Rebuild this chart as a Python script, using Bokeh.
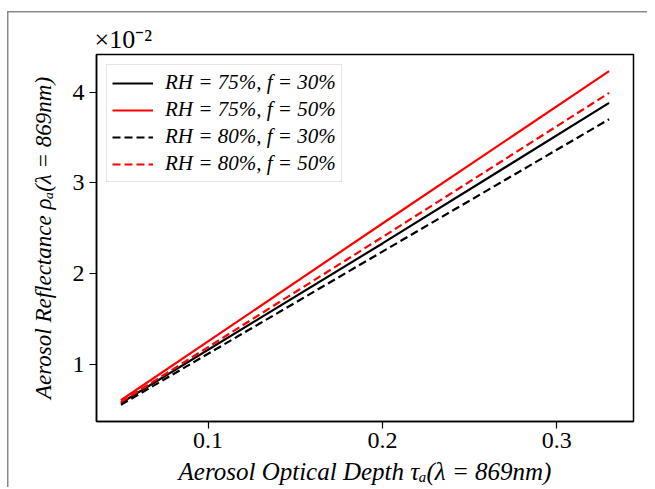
from bokeh.plotting import figure
from bokeh.models import (Range1d, FixedTicker, CustomJSTickFormatter, Legend, LegendItem)
from bokeh.embed import file_html
from bokeh.resources import INLINE

# Data (reflectance in absolute units; axis shows x10^-2)
tau = [0.05, 0.20, 0.33]
rh75_f30 = [0.0057, 0.0233, 0.0388]
rh75_f50 = [0.0060, 0.0255, 0.0423]
rh80_f30 = [0.0055, 0.0224, 0.0370]
rh80_f50 = [0.0058, 0.0240, 0.0399]

series_labels = ["RH = 75%, f = 30%", "RH = 75%, f = 50%",
                 "RH = 80%, f = 30%", "RH = 80%, f = 50%"]
x_ticks = [0.1, 0.2, 0.3]
y_ticks = [0.01, 0.02, 0.03, 0.04]

all_y = rh75_f30 + rh75_f50 + rh80_f30 + rh80_f50
xmin, xmax = min(tau), max(tau)
ymin, ymax = min(all_y), max(all_y)
xm = 0.05 * (xmax - xmin)
ym = 0.05 * (ymax - ymin)

SERIF = "Liberation Serif"
GREY = "#8a8a8a"

p = figure(width=647, height=487, output_backend="svg", toolbar_location=None,
           x_range=Range1d(xmin - xm, xmax + xm), y_range=Range1d(ymin - ym, ymax + ym),
           min_border_left=96, min_border_right=14, min_border_top=54, min_border_bottom=20,
           title="×10⁻²")

p.title.text_font = SERIF
p.title.text_font_size = "26px"
p.title.text_font_style = "normal"
p.title.text_color = "black"
p.title.align = "left"
p.title.offset = -2
p.title.standoff = 2

# thin grey frame of the original picture (drawn behind a transparent border fill)
p.border_fill_alpha = 0
p.styles = {
    "background-color": "white",
    "background-image": f"linear-gradient({GREY},{GREY}), linear-gradient({GREY},{GREY})",
    "background-size": "1.5px 100%, 100% 1.5px",
    "background-position": "7px 11px, 7px 11px",
    "background-repeat": "no-repeat",
}

p.xgrid.visible = False
p.ygrid.visible = False
p.background_fill_color = "white"
p.outline_line_color = "black"
p.outline_line_width = 1.5
p.outline_line_alpha = 1.0

p.xaxis.ticker = FixedTicker(ticks=x_ticks)
p.yaxis.ticker = FixedTicker(ticks=y_ticks)
p.yaxis.formatter = CustomJSTickFormatter(code="return (tick*100).toFixed(0);")
p.xaxis.formatter = CustomJSTickFormatter(code="return tick.toFixed(1);")

for ax in (p.xaxis[0], p.yaxis[0]):
    ax.axis_line_color = "black"
    ax.axis_line_width = 1.5
    ax.major_tick_line_color = "black"
    ax.major_tick_line_width = 1.2
    ax.major_tick_out = 7
    ax.major_tick_in = 0
    ax.minor_tick_out = 0
    ax.minor_tick_in = 0
    ax.major_label_text_font = SERIF
    ax.major_label_text_font_size = "24px"
    ax.major_label_text_color = "black"
    ax.axis_label_text_font = SERIF
    ax.axis_label_text_font_style = "italic"
    ax.axis_label_text_color = "black"

p.xaxis.axis_label_text_font_size = "25px"
p.yaxis.axis_label_text_font_size = "23px"
p.xaxis.axis_label = "Aerosol Optical Depth τₐ(λ = 869nm)"
p.yaxis.axis_label = "Aerosol Reflectance ρₐ(λ = 869nm)"
p.xaxis.major_label_standoff = 4
p.xaxis.axis_label_standoff = 7
p.yaxis.major_label_standoff = 5
p.yaxis.axis_label_standoff = 14

r1 = p.line(tau, rh75_f30, line_color="black", line_width=2.2)
r2 = p.line(tau, rh75_f50, line_color="#ff0000", line_width=2.2)
r3 = p.line(tau, rh80_f30, line_color="black", line_width=2.2, line_dash="8 4")
r4 = p.line(tau, rh80_f50, line_color="#ff0000", line_width=2.2, line_dash="8 4")

legend = Legend(items=[LegendItem(label=l, renderers=[r]) for l, r in
                       zip(series_labels, [r1, r2, r3, r4])],
                location="top_left")
legend.label_text_font = SERIF
legend.label_text_font_style = "italic"
legend.label_text_font_size = "21px"
legend.label_text_color = "black"
legend.glyph_width = 41
legend.glyph_height = 20
legend.label_height = 20
legend.label_standoff = 12
legend.spacing = 2
legend.padding = 5
legend.margin = 10
legend.border_line_color = "#cccccc"
legend.border_line_width = 1.2
legend.background_fill_alpha = 0.8
p.add_layout(legend)

open("out.html", "w").write(file_html(p, INLINE))
